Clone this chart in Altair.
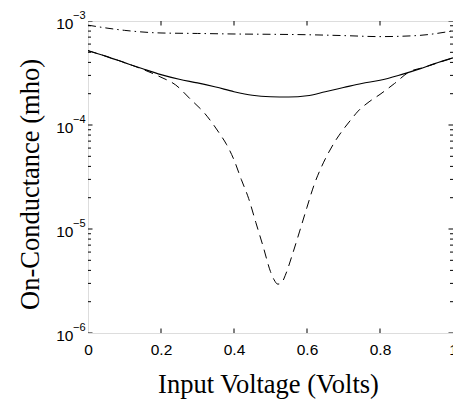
import altair as alt
import pandas as pd

# ---- data ----
solid_x = [0, 0.05, 0.1, 0.15, 0.2, 0.25, 0.3, 0.35, 0.4, 0.45, 0.5, 0.55, 0.6,
           0.65, 0.7, 0.75, 0.8, 0.85, 0.9, 0.95, 1.0]
solid_g = [5.19e-4, 4.57e-4, 3.98e-4, 3.47e-4, 3.05e-4, 2.75e-4, 2.54e-4, 2.32e-4,
           2.09e-4, 1.93e-4, 1.87e-4, 1.86e-4, 1.91e-4, 2.09e-4, 2.29e-4, 2.51e-4,
           2.69e-4, 2.99e-4, 3.39e-4, 3.89e-4, 4.42e-4]

dashed_x = [0, 0.05, 0.1, 0.15, 0.2, 0.24, 0.28, 0.32, 0.36, 0.38, 0.40, 0.42, 0.44,
            0.46, 0.48, 0.50, 0.51, 0.52, 0.53, 0.54, 0.56, 0.58, 0.60, 0.62, 0.64,
            0.66, 0.68, 0.70, 0.72, 0.74, 0.77, 0.80, 0.84, 0.88, 0.92, 0.96, 1.0]
dashed_g = [5.19e-4, 4.57e-4, 3.98e-4, 3.43e-4, 2.88e-4, 2.43e-4, 1.78e-4, 1.29e-4,
            8.32e-5, 6.46e-5, 4.62e-5, 2.99e-5, 1.97e-5, 1.15e-5, 6.76e-6, 3.89e-6,
            3.24e-6, 2.95e-6, 3.02e-6, 3.55e-6, 5.69e-6, 9.55e-6, 1.62e-5, 2.69e-5,
            3.98e-5, 5.50e-5, 7.24e-5, 9.12e-5, 1.12e-4, 1.36e-4, 1.67e-4, 1.97e-4,
            2.51e-4, 3.24e-4, 3.58e-4, 3.98e-4, 4.42e-4]

dashdot_x = [0, 0.1, 0.2, 0.3, 0.4, 0.5, 0.6, 0.7, 0.8, 0.9, 1.0]
dashdot_g = [9.12e-4, 8.13e-4, 7.67e-4, 7.59e-4, 7.50e-4, 7.45e-4, 7.38e-4, 7.24e-4,
             7.08e-4, 7.24e-4, 8.04e-4]

x_tick_values = [0, 0.2, 0.4, 0.6, 0.8, 1.0]
x_inner_ticks = [0.2, 0.4, 0.6, 0.8]
y_tick_values = [1e-6, 1e-5, 1e-4, 1e-3]
y_exponents = ["\u22126", "\u22125", "\u22124", "\u22123"]
y_minor_ticks = [k * d for d in [1e-6, 1e-5, 1e-4] for k in range(2, 10)]

# ---- scales & axes ----
xscale = alt.Scale(domain=[0, 1], nice=False, zero=False)
yscale = alt.Scale(type="log", domain=[1e-6, 1e-3], nice=False)

xaxis = alt.Axis(values=x_tick_values, format="~g", labelFlush=False, ticks=False,
                 tickSize=0, domain=False, grid=False, labelPadding=9,
                 labelFont="Liberation Sans", labelFontSize=15.5, labelColor="black",
                 title="Input Voltage (Volts)", titleFont="Liberation Serif",
                 titleFontSize=26.5, titleFontWeight="normal", titleColor="black",
                 titleX=180, titleY=59, titleBaseline="alphabetic")
yaxis = alt.Axis(values=y_tick_values, labelExpr="'10'", ticks=False, tickSize=0,
                 domain=False, grid=False, labelPadding=15, labelAlign="right",
                 labelBaseline="alphabetic", labelOffset=7, labelFlush=False,
                 labelFont="Liberation Sans", labelFontSize=15.5, labelColor="black",
                 title="On-Conductance (mho)", titleFont="Liberation Serif",
                 titleFontSize=26.5, titleFontWeight="normal", titleColor="black",
                 titleX=-50, titleY=163, titleBaseline="alphabetic", titleAngle=270)

X = lambda f: alt.X(f, scale=xscale, axis=xaxis)
Y = lambda f: alt.Y(f, scale=yscale, axis=yaxis)
XD = lambda d: alt.XDatum(d, scale=xscale, axis=xaxis)
YD = lambda d: alt.YDatum(d, scale=yscale, axis=yaxis)

df_solid = pd.DataFrame({"v": solid_x, "g": solid_g})
df_dashed = pd.DataFrame({"v": dashed_x, "g": dashed_g})
df_dashdot = pd.DataFrame({"v": dashdot_x, "g": dashdot_g})
df_xt = pd.DataFrame({"v": x_inner_ticks})
df_yt = pd.DataFrame({"g": y_tick_values})
df_ym = pd.DataFrame({"g": y_minor_ticks})
df_exp = pd.DataFrame({"g": y_tick_values, "e": y_exponents})

solid = alt.Chart(df_solid).mark_line(color="black", strokeWidth=1.1,
                                      interpolate="monotone", clip=True).encode(
    x=X("v:Q"), y=Y("g:Q"))
dashed = alt.Chart(df_dashed).mark_line(color="black", strokeWidth=1,
                                        strokeDash=[9, 6], interpolate="monotone",
                                        clip=True).encode(x=X("v:Q"), y=Y("g:Q"))
dashdot = alt.Chart(df_dashdot).mark_line(color="black", strokeWidth=1,
                                          strokeDash=[8, 4, 1.5, 4],
                                          interpolate="monotone", clip=True).encode(
    x=X("v:Q"), y=Y("g:Q"))

tick_style = dict(color="black", thickness=1, clip=True, opacity=1)
xt_top = alt.Chart(df_xt).mark_tick(orient="vertical", size=9, **tick_style).encode(
    x=X("v:Q"), y=YD(1e-3))
xt_bot = alt.Chart(df_xt).mark_tick(orient="vertical", size=9, **tick_style).encode(
    x=X("v:Q"), y=YD(1e-6))
yt_left = alt.Chart(df_yt).mark_tick(orient="horizontal", size=9, **tick_style).encode(
    x=XD(0), y=Y("g:Q"))
yt_right = alt.Chart(df_yt).mark_tick(orient="horizontal", size=9, **tick_style).encode(
    x=XD(1), y=Y("g:Q"))
ym_left = alt.Chart(df_ym).mark_tick(orient="horizontal", size=6, **tick_style).encode(
    x=XD(0), y=Y("g:Q"))
ym_right = alt.Chart(df_ym).mark_tick(orient="horizontal", size=6, **tick_style).encode(
    x=XD(1), y=Y("g:Q"))

exps = alt.Chart(df_exp).mark_text(align="left", baseline="alphabetic", dx=-15, dy=-2,
                                   fontSize=11, font="Liberation Sans",
                                   color="black").encode(
    x=XD(0), y=Y("g:Q"), text="e:N")

chart = alt.layer(solid, dashed, dashdot, xt_top, xt_bot, yt_left, yt_right,
                  ym_left, ym_right, exps).properties(
    width=365, height=312, autosize="none",
    padding={"left": 80, "top": 13, "right": 0, "bottom": 66},
).configure_view(stroke="black", strokeWidth=1.2).configure(background="white")

chart.save("out.html", embed_options={"renderer": "svg", "actions": False})
